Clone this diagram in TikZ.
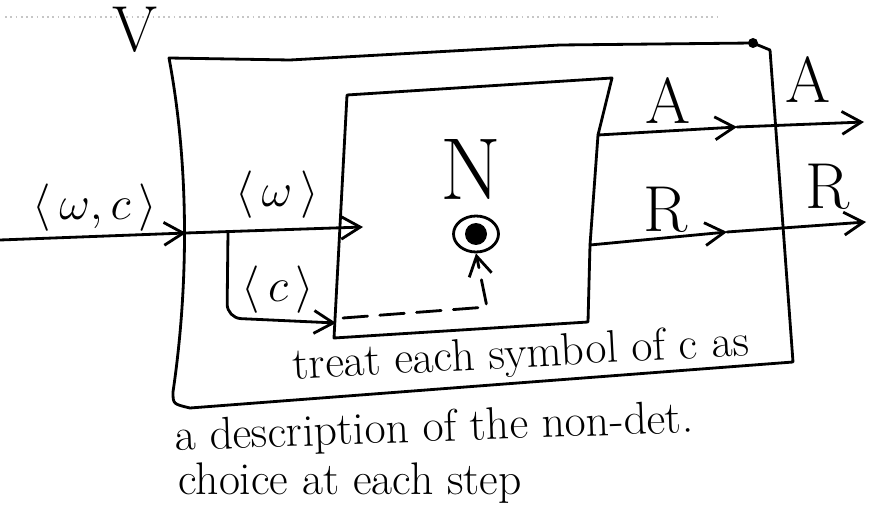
\documentclass[tikz,border=0pt]{standalone}
\usepackage{fix-cm}
\usepackage{amsmath,amssymb}
\usepackage{fontspec}
\usetikzlibrary{arrows.meta,shapes.geometric}

\begin{document}
\begin{tikzpicture}[x=0.02cm, y=-0.02cm,
    sketch/.style={line width=1.6pt, line cap=round, line join=round},
    flow/.style={sketch, -{Straight Barb[length=11pt,width=13pt]}},
    lbl/.style={inner sep=0pt, font=\fontsize{37}{40}\selectfont},
    mlbl/.style={inner sep=0pt, font=\fontsize{27}{30}\selectfont},
    note/.style={inner sep=0pt, font=\fontsize{26}{30}\selectfont}]
    \useasboundingbox (0,0) rectangle (869,513);
    % faint scan line along the top
    \draw[gray!45, dotted, line width=1pt] (5,17) -- (720,17);
    % outer box V
    \coordinate (vtl) at (169,58);
    \coordinate (vtr) at (753,43);
    \coordinate (vhook) at (770,50);
    \coordinate (vbr) at (793,362);
    \coordinate (vbla) at (173,392);
    \coordinate (vblb) at (190,408);
    \coordinate (vin) at (186,233);
    \draw[sketch] (vhook) -- (vtr) -- (560,45) -- (290,60) -- (vtl)
        .. controls (190,170) and (188,290) .. (vbla)
        .. controls (173,404) .. (vblb) -- (vbr) -- (vhook);
    \fill (vtr) circle[radius=0.1cm];
    \node[lbl] (vname) at (135,30) {V};
    % inner box N
    \coordinate (ntl) at (347,95);
    \coordinate (ntr) at (612,78);
    \coordinate (aout) at (598,135);
    \coordinate (rout) at (590,245);
    \coordinate (nbr) at (588,322);
    \coordinate (nbl) at (334,338);
    \coordinate (nin) at (363,227);
    \coordinate (cin) at (336,323);
    \draw[sketch] (ntl) -- (ntr) -- (aout) -- (rout) -- (nbr) -- (nbl) -- cycle;
    \node[font=\fontsize{50}{54}\selectfont, inner sep=0pt] (nname) at (471,170) {N};
    % the head that reads the choices
    \node[draw, sketch, ellipse, minimum width=0.9cm, minimum height=0.72cm, inner sep=0pt] (head) at (476,234) {};
    \fill (head.center) circle[radius=0.22cm];
    \coordinate (dstart) at (343,318);
    \coordinate (dcorner) at (487,307);
    \draw[flow, dashed, dash pattern=on 14pt off 7pt] (dstart) -- (dcorner) -- (head.south);
    % input and its two parts
    \coordinate (in0) at (0,240);
    \coordinate (br) at (228,232);
    \coordinate (brc) at (227,318);
    \draw[flow] (in0) -- (vin);
    \draw[flow] (vin) -- (nin);
    \draw[flow, rounded corners=8pt] (br) -- (brc) -- (cin);
    \node[mlbl] (lwc) at (95,208) {$\langle\,\omega,c\,\rangle$};
    \node[mlbl] (lw) at (277,195) {$\langle\,\omega\,\rangle$};
    \node[mlbl] (lc) at (278,290) {$\langle\,c\,\rangle$};
    % outputs A and R
    \coordinate (amid) at (737,127);
    \coordinate (aend) at (864,122);
    \coordinate (rmid) at (727,232);
    \coordinate (rend) at (866,222);
    \draw[flow] (aout) -- (amid);
    \draw[flow] (amid) -- (aend);
    \draw[flow] (rout) -- (rmid);
    \draw[flow] (rmid) -- (rend);
    \node[lbl] (la1) at (668,101) {A};
    \node[lbl] (la2) at (808,80) {A};
    \node[lbl] (lr1) at (666,210) {R};
    \node[lbl] (lr2) at (828,187) {R};
    % remark
    \node[note, rotate=3] (rem1) at (521,356) {treat each symbol of c as};
    \node[note, rotate=2] (rem2) at (434,430) {a description of the non-det.};
    \node[note] (rem3) at (350,483) {choice at each step};
\end{tikzpicture}
\end{document}
